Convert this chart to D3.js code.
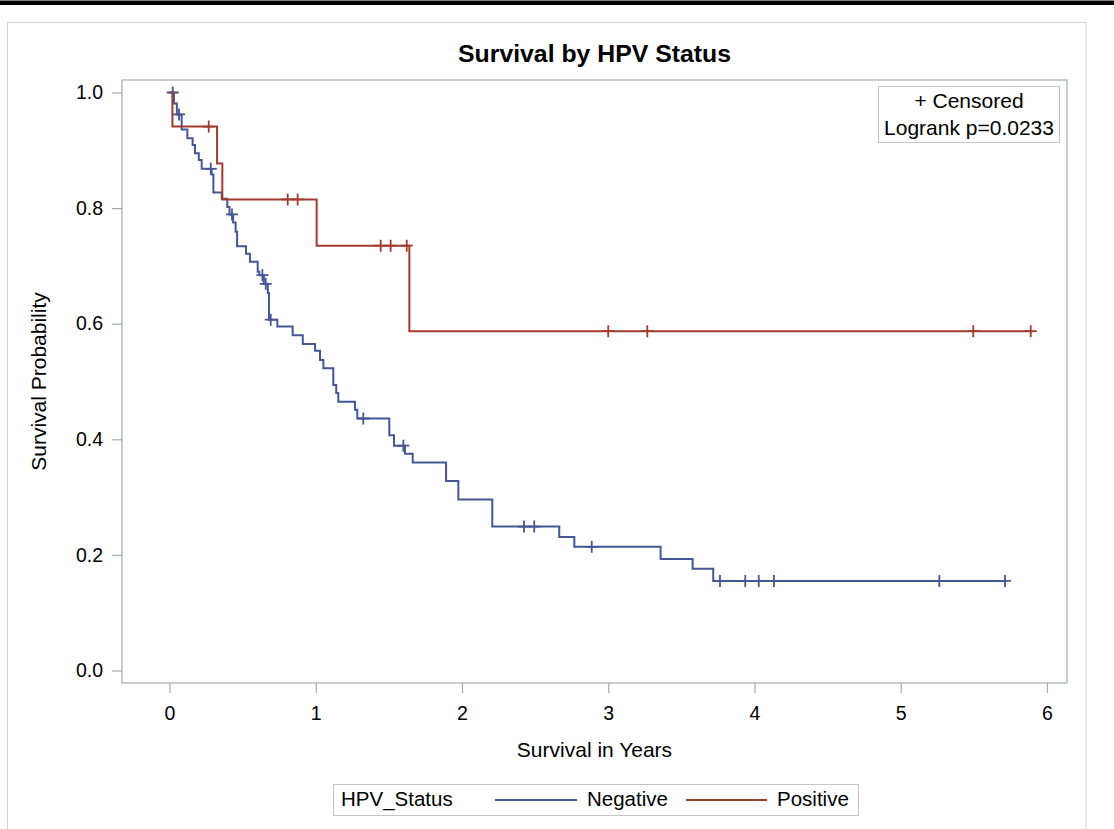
<!DOCTYPE html>
<html>
<head>
<meta charset="utf-8">
<script src="https://cdn.jsdelivr.net/npm/d3@7"></script>
<style>
  html, body { margin: 0; padding: 0; background: #fff; }
  svg { display: block; font-family: "Liberation Sans", Arial, sans-serif; }
</style>
</head>
<body>
<svg id="chart" width="1114" height="829"></svg>
<script>
// Kaplan-Meier estimates by HPV status (time in years)
const negEventTimes = [0.030, 0.050, 0.083, 0.122, 0.158, 0.174, 0.200, 0.220, 0.288, 0.300,
  0.357, 0.395, 0.410, 0.435, 0.452, 0.462, 0.523, 0.550, 0.603, 0.614, 0.645, 0.672, 0.680,
  0.737, 0.842, 0.911, 0.995, 1.029, 1.052, 1.120, 1.140, 1.154, 1.268, 1.284, 1.503, 1.535,
  1.610, 1.663, 1.891, 1.975, 2.207, 2.665, 2.768, 3.358, 3.577, 3.718];
const negSurvival = [0.981, 0.962, 0.936, 0.921, 0.909, 0.895, 0.883, 0.868, 0.858, 0.827,
  0.816, 0.802, 0.789, 0.775, 0.759, 0.734, 0.721, 0.707, 0.690, 0.684, 0.669, 0.653, 0.607,
  0.595, 0.580, 0.565, 0.553, 0.537, 0.523, 0.494, 0.480, 0.465, 0.451, 0.436, 0.407, 0.389,
  0.375, 0.360, 0.328, 0.296, 0.249, 0.231, 0.214, 0.193, 0.176, 0.155];
const negCensored = [0.022, 0.065, 0.282, 0.427, 0.635, 0.658, 0.692, 1.325, 1.599, 2.424,
  2.494, 2.887, 3.764, 3.937, 4.029, 4.133, 5.264, 5.713];

const posEventTimes = [0.020, 0.325, 0.361, 1.006, 1.640];
const posSurvival = [0.941, 0.877, 0.815, 0.735, 0.587];
const posCensored = [0.268, 0.808, 0.876, 1.444, 1.512, 1.622, 3.000, 3.267, 5.496, 5.889];

const groups = ["Negative", "Positive"];
const groupColors = ["#445694", "#A23A2E"];
const xTicks = [0, 1, 2, 3, 4, 5, 6];
const yTicks = [0, 0.2, 0.4, 0.6, 0.8, 1.0];

const svg = d3.select("#chart");
const axisColor = "#A3A9AF";

// page band and graph frame
svg.append("rect").attr("x", 0).attr("y", 0.5).attr("width", 1114).attr("height", 4.5).attr("fill", "#000");
svg.append("rect").attr("x", 7.5).attr("y", 22.5).attr("width", 1078.5).attr("height", 820)
  .attr("fill", "#fff").attr("stroke", "#D4D4D4").attr("stroke-width", 1);

const plot = { left: 122, right: 1067, top: 80, bottom: 683 };
const x = d3.scaleLinear().domain([-0.325, 6.137]).range([plot.left, plot.right]);
const y = d3.scaleLinear().domain([-0.0216, 1.0216]).range([plot.bottom, plot.top]);

svg.append("text").attr("x", (plot.left + plot.right) / 2).attr("y", 62)
  .attr("text-anchor", "middle").attr("font-size", 24.8).attr("font-weight", "bold")
  .attr("fill", "#000").text("Survival by HPV Status");

// axes
const gx = svg.append("g").attr("transform", `translate(0,${plot.bottom})`)
  .call(d3.axisBottom(x).tickValues(xTicks).tickFormat(d3.format("d")).tickSize(10).tickPadding(13));
const gy = svg.append("g").attr("transform", `translate(${plot.left},0)`)
  .call(d3.axisLeft(y).tickValues(yTicks).tickFormat(d3.format(".1f")).tickSize(10).tickPadding(9));
[gx, gy].forEach(g => {
  g.select(".domain").remove();
  g.selectAll(".tick line").attr("stroke", axisColor).attr("stroke-width", 1.2);
  g.selectAll(".tick text").attr("fill", "#000").attr("font-size", 19.5)
    .attr("font-family", "Liberation Sans, Arial, sans-serif");
});

svg.append("rect").attr("x", plot.left).attr("y", plot.top)
  .attr("width", plot.right - plot.left).attr("height", plot.bottom - plot.top)
  .attr("fill", "none").attr("stroke", axisColor).attr("stroke-width", 1.2);

svg.append("text").attr("x", (plot.left + plot.right) / 2).attr("y", 757)
  .attr("text-anchor", "middle").attr("font-size", 21).attr("fill", "#000").text("Survival in Years");
svg.append("text").attr("transform", `translate(46,${(plot.top + plot.bottom) / 2}) rotate(-90)`)
  .attr("text-anchor", "middle").attr("font-size", 21).attr("fill", "#000").text("Survival Probability");

// step curves
function survivalAt(times, surv, t) {
  let s = 1;
  for (let i = 0; i < times.length; i++) if (times[i] <= t) s = surv[i];
  return s;
}
const line = d3.line().x(d => x(d[0])).y(d => y(d[1])).curve(d3.curveStepAfter);

function drawGroup(times, surv, censored, color) {
  const end = d3.max(censored.concat(times));
  const pts = [[0, 1]].concat(times.map((t, i) => [t, surv[i]]));
  pts.push([end, survivalAt(times, surv, end)]);
  svg.append("path").datum(pts).attr("d", line)
    .attr("fill", "none").attr("stroke", color).attr("stroke-width", 2);
  svg.append("g").selectAll("path").data(censored).join("path")
    .attr("transform", t => `translate(${x(t)},${y(survivalAt(times, surv, t))})`)
    .attr("d", "M-6,0H6M0,-6V6")
    .attr("stroke", color).attr("stroke-width", 1.8).attr("fill", "none");
}
drawGroup(negEventTimes, negSurvival, negCensored, groupColors[0]);
drawGroup(posEventTimes, posSurvival, posCensored, groupColors[1]);

// inset
svg.append("rect").attr("x", 878.5).attr("y", 86.5).attr("width", 181).attr("height", 56)
  .attr("fill", "#fff").attr("stroke", "#C4C4C4").attr("stroke-width", 1);
svg.append("text").attr("x", 969).attr("y", 108).attr("text-anchor", "middle")
  .attr("font-size", 21).attr("fill", "#000").text("+ Censored");
svg.append("text").attr("x", 969).attr("y", 135).attr("text-anchor", "middle")
  .attr("font-size", 21).attr("fill", "#000").text("Logrank p=0.0233");

// legend
svg.append("rect").attr("x", 333.5).attr("y", 784.5).attr("width", 525).attr("height", 31)
  .attr("fill", "#fff").attr("stroke", "#C4C4C4").attr("stroke-width", 1);
svg.append("text").attr("x", 341).attr("y", 806).attr("font-size", 20.5).attr("fill", "#000").text("HPV_Status");
const legendItems = [
  { x1: 495, x2: 577, tx: 587 },
  { x1: 686, x2: 767, tx: 777 }
];
legendItems.forEach((d, i) => {
  svg.append("line").attr("x1", d.x1).attr("x2", d.x2).attr("y1", 800).attr("y2", 800)
    .attr("stroke", groupColors[i]).attr("stroke-width", 2);
  svg.append("text").attr("x", d.tx).attr("y", 806).attr("font-size", 20.5).attr("fill", "#000").text(groups[i]);
});
</script>
</body>
</html>
